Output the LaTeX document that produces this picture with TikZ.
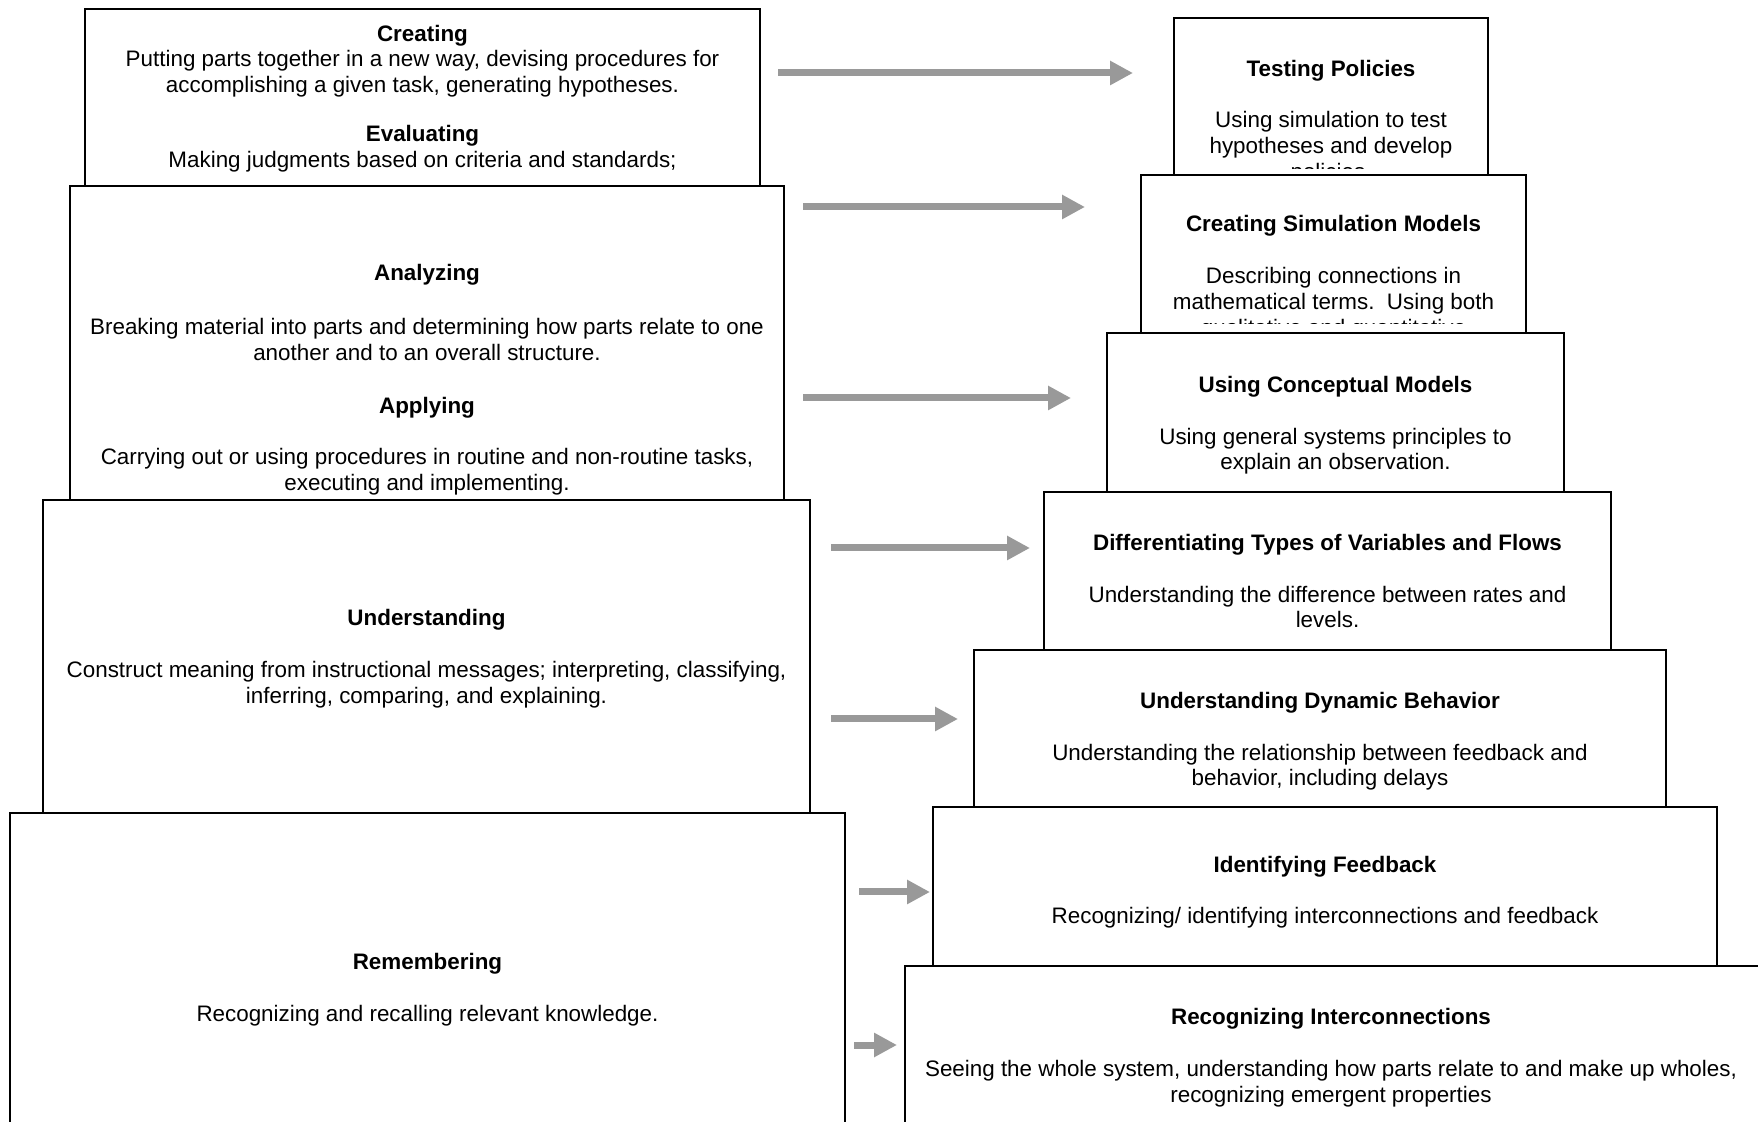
\documentclass[tikz,border=0pt]{standalone}
\usepackage{fontspec}
\setmainfont{Liberation Sans}
\usetikzlibrary{arrows.meta}
\definecolor{arrowgray}{RGB}{153,153,153}

\tikzset{
  tierbox/.style={draw, fill=white, line width=1pt, inner sep=0pt},
  tiertext/.style={anchor=north, align=center, inner sep=0pt, font=\fontsize{11.2}{12.9}\selectfont},
  grayarrow/.style={-{Triangle[width=11.5pt,length=11.5pt]}, line width=3.5pt, draw=arrowgray}
}

\begin{document}
\begin{tikzpicture}[x=0.5pt,y=-0.5pt]
\clip (0,0) rectangle (1758,1122);
\fill[white] (0,0) rectangle (1758,1122);

% Bloom levels, left side
\node[tierbox, minimum width=337.5pt, minimum height=89pt] (crt) at (422.5,98) {};
\node[tiertext] (crttxt) at (422.5,24.5) {\textbf{Creating}\\Putting parts together in a new way, devising procedures for\\accomplishing a given task, generating hypotheses.\\[11.7pt]\textbf{Evaluating}\\Making judgments based on criteria and standards;};
\node[tierbox, minimum width=357pt, minimum height=157pt] (ana) at (427,343) {};
\begin{scope}
\clip (ana.north west) rectangle ([yshift=3pt]ana.south east);
\node[tiertext] (anatxt) at (427,263.4) {\textbf{Analyzing}\\[14.2pt]Breaking material into parts and determining how parts relate to one\\another and to an overall structure.\\[13.6pt]\textbf{Applying}\\[13pt]Carrying out or using procedures in routine and non-routine tasks,\\executing and implementing.};
\end{scope}
\node[tierbox, minimum width=383.5pt, minimum height=156.5pt] (und) at (426.5,656.5) {};
\node[tiertext] (undtxt) at (426.5,608.8) {\textbf{Understanding}\\[13pt]Construct meaning from instructional messages; interpreting, classifying,\\inferring, comparing, and explaining.};
\node[tierbox, minimum width=417.5pt, minimum height=163.5pt] (rem) at (427.5,976.5) {};
\node[tiertext] (remtxt) at (427.5,953) {\textbf{Remembering}\\[13pt]Recognizing and recalling relevant knowledge.};

% systems thinking levels, right side
\node[tierbox, minimum width=157pt, minimum height=78.5pt] (tp) at (1331,96.5) {};
\begin{scope}
\clip (tp.north west) rectangle ([yshift=3.5pt]tp.south east);
\node[tiertext] (tptxt) at (1331,59.4) {\textbf{Testing Policies}\\[13pt]Using simulation to test\\hypotheses and develop\\policies.};
\end{scope}
\node[tierbox, minimum width=192.5pt, minimum height=79pt] (csm) at (1333.5,254) {};
\begin{scope}
\clip (csm.north west) rectangle ([yshift=5pt]csm.south east);
\node[tiertext] (csmtxt) at (1333.5,215) {\textbf{Creating Simulation Models}\\[13pt]Describing connections in\\mathematical terms.\ \ Using both\\qualitative and quantitative};
\end{scope}
\node[tierbox, minimum width=228.5pt, minimum height=79.5pt] (ucm) at (1335.5,412.5) {};
\node[tiertext] (ucmtxt) at (1335.5,375.6) {\textbf{Using Conceptual Models}\\[13pt]Using general systems principles to\\explain an observation.};
\node[tierbox, minimum width=283.5pt, minimum height=79pt] (dtv) at (1327.5,571) {};
\node[tiertext] (dtvtxt) at (1327.5,533.6) {\textbf{Differentiating Types of Variables and Flows}\\[13pt]Understanding the difference between rates and\\levels.};
\node[tierbox, minimum width=346pt, minimum height=78.5pt] (udb) at (1320,728.5) {};
\node[tiertext] (udbtxt) at (1320,691.7) {\textbf{Understanding Dynamic Behavior}\\[13pt]Understanding the relationship between feedback and\\behavior, including delays};
\node[tierbox, minimum width=392pt, minimum height=79.5pt] (ifb) at (1325,886.5) {};
\node[tiertext] (ifbtxt) at (1325,855.4) {\textbf{Identifying Feedback}\\[13pt]Recognizing/ identifying interconnections and feedback};
\node[tierbox, minimum width=435pt, minimum height=87pt] (ric) at (1340,1053) {};
\node[tiertext] (rictxt) at (1331,1008) {\textbf{Recognizing Interconnections}\\[13pt]Seeing the whole system, understanding how parts relate to and make up wholes,\\recognizing emergent properties};

% arrows between the two ladders
\coordinate (a1s) at (778,73);  \coordinate (a1e) at (1133,73);
\coordinate (a2s) at (803,207); \coordinate (a2e) at (1085,207);
\coordinate (a3s) at (803,398); \coordinate (a3e) at (1071,398);
\coordinate (a4s) at (831,548); \coordinate (a4e) at (1030,548);
\coordinate (a5s) at (831,719); \coordinate (a5e) at (958,719);
\coordinate (a6s) at (859,892); \coordinate (a6e) at (930,892);
\coordinate (a7s) at (854,1045); \coordinate (a7e) at (897,1045);
\draw[grayarrow] (a1s) -- (a1e);
\draw[grayarrow] (a2s) -- (a2e);
\draw[grayarrow] (a3s) -- (a3e);
\draw[grayarrow] (a4s) -- (a4e);
\draw[grayarrow] (a5s) -- (a5e);
\draw[grayarrow] (a6s) -- (a6e);
\draw[grayarrow] (a7s) -- (a7e);
\end{tikzpicture}
\end{document}
